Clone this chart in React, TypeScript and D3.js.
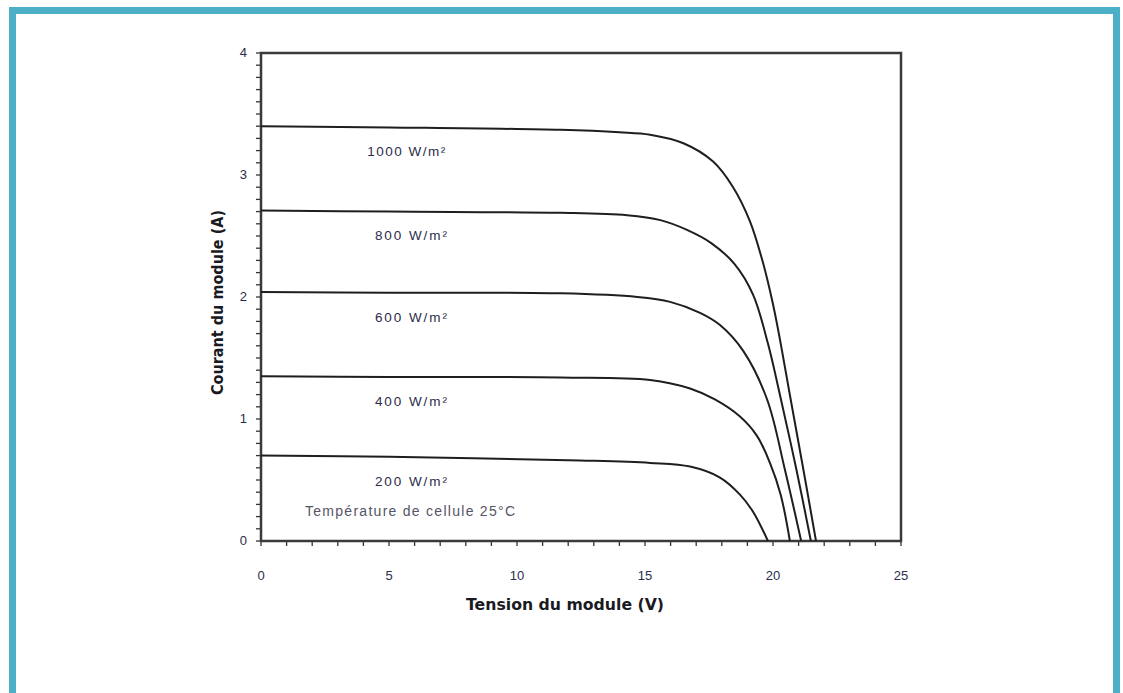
import React from "react";
import * as d3 from "d3";

// I-V characteristics of a PV module at a cell temperature of 25 °C
const irradianceLabels = ["1000 W/m²", "800 W/m²", "600 W/m²", "400 W/m²", "200 W/m²"];

// [voltage (V), current (A)] points along each curve
const curve1000: [number, number][] = [
  [0, 3.4], [5, 3.39], [11.7, 3.37], [14.0, 3.35], [15.2, 3.33], [16.5, 3.26], [17.66, 3.11],
  [18.44, 2.9], [19.1, 2.62], [19.61, 2.28], [20.0, 1.94], [20.3, 1.62], [20.7, 1.15],
  [21.2, 0.57], [21.68, 0],
];
const curve800: [number, number][] = [
  [0, 2.71], [5, 2.7], [11.7, 2.69], [14.3, 2.67], [15.6, 2.63], [16.64, 2.55], [17.6, 2.44],
  [18.5, 2.27], [19.22, 2.02], [19.8, 1.62], [20.3, 1.17], [20.92, 0.58], [21.48, 0],
];
const curve600: [number, number][] = [
  [0, 2.04], [5, 2.035], [11.7, 2.03], [14.7, 2.0], [15.98, 1.96], [17.15, 1.87], [17.93, 1.77],
  [18.83, 1.56], [19.77, 1.16], [20.47, 0.58], [21.1, 0],
];
const curve400: [number, number][] = [
  [0, 1.35], [5, 1.345], [11.7, 1.34], [15.2, 1.32], [16.76, 1.25], [17.73, 1.16], [18.71, 1.02],
  [19.38, 0.86], [19.88, 0.64], [20.3, 0.38], [20.66, 0],
];
const curve200: [number, number][] = [
  [0, 0.7], [5, 0.69], [12.46, 0.66], [15.2, 0.64], [16.76, 0.61], [17.93, 0.52], [18.71, 0.38],
  [19.25, 0.23], [19.8, 0],
];
const curves = [curve1000, curve800, curve600, curve400, curve200];

const xTicks = [0, 5, 10, 15, 20, 25];
const yTicks = [0, 1, 2, 3, 4];

const W = 1123;
const H = 693;
const plot = { left: 261, top: 53, right: 901, bottom: 541 };

export default function App() {
  const x = d3.scaleLinear().domain([0, 25]).range([plot.left, plot.right]);
  const y = d3.scaleLinear().domain([0, 4]).range([plot.bottom, plot.top]);
  const line = d3
    .line<[number, number]>()
    .x((d) => x(d[0]))
    .y((d) => y(d[1]))
    .curve(d3.curveCatmullRom.alpha(0.5));

  const minorX = d3.range(0, 25.001, 1);
  const minorY = d3.range(0, 4.001, 0.1);
  const labelFont = "'Liberation Sans', Arial, sans-serif";
  const ink = "#2b2d4a";

  return (
    <svg
      width={W}
      height={H}
      viewBox={`0 0 ${W} ${H}`}
      style={{ position: "absolute", left: 0, top: 0, background: "#fff" }}
    >
      {/* cyan frame */}
      <rect x={12.5} y={10.5} width={1104} height={720} fill="none" stroke="#4bafc7" strokeWidth={7} />

      {/* minor ticks */}
      {minorX.map((v) => (
        <line key={`tx${v}`} x1={x(v)} x2={x(v)} y1={plot.bottom} y2={plot.bottom + 5} stroke="#333" strokeWidth={1.3} />
      ))}
      {minorY.map((v) => (
        <line key={`ty${v.toFixed(1)}`} x1={plot.left - 5} x2={plot.left} y1={y(v)} y2={y(v)} stroke="#333" strokeWidth={1.3} />
      ))}

      {/* plot frame */}
      <rect
        x={plot.left}
        y={plot.top}
        width={plot.right - plot.left}
        height={plot.bottom - plot.top}
        fill="none"
        stroke="#3a3a3a"
        strokeWidth={2.5}
      />

      {/* tick labels */}
      {xTicks.map((v) => (
        <text key={`lx${v}`} x={x(v)} y={580} textAnchor="middle" fontFamily={labelFont} fontSize={13} fill={ink}>
          {v}
        </text>
      ))}
      {yTicks.map((v) => (
        <text key={`ly${v}`} x={247} y={y(v) + 4} textAnchor="end" fontFamily={labelFont} fontSize={13} fill={ink}>
          {v}
        </text>
      ))}

      {/* curves */}
      {curves.map((c, i) => (
        <path key={`c${i}`} d={line(c) ?? ""} fill="none" stroke="#1e1e1e" strokeWidth={2} />
      ))}

      {/* curve labels */}
      {irradianceLabels.map((t, i) => {
        const isc = curves[i][0][1];
        const lx = i === 0 ? x(4.15) : x(4.45);
        return (
          <text
            key={`lab${i}`}
            x={lx}
            y={y(isc) + 30}
            fontFamily={labelFont}
            fontSize={13.5}
            fill={ink}
            textLength={i === 0 ? 78 : 72}
            lengthAdjust="spacing"
          >
            {t}
          </text>
        );
      })}
      <text
        x={305}
        y={516}
        fontFamily={labelFont}
        fontSize={14}
        fill="#555566"
        textLength={210}
        lengthAdjust="spacing"
      >
        Température de cellule 25°C
      </text>

      {/* axis titles */}
      <text
        x={565}
        y={610}
        textAnchor="middle"
        fontFamily="'DejaVu Sans', sans-serif"
        fontWeight="bold"
        fontSize={15}
        fill="#1a1a22"
        textLength={198}
        lengthAdjust="spacingAndGlyphs"
      >
        Tension du module (V)
      </text>
      <text
        transform={`translate(223, ${(210 + 395) / 2}) rotate(-90)`}
        textAnchor="middle"
        fontFamily="'DejaVu Sans', sans-serif"
        fontWeight="bold"
        fontSize={15}
        fill="#1a1a22"
        textLength={185}
        lengthAdjust="spacingAndGlyphs"
      >
        Courant du module (A)
      </text>
    </svg>
  );
}
